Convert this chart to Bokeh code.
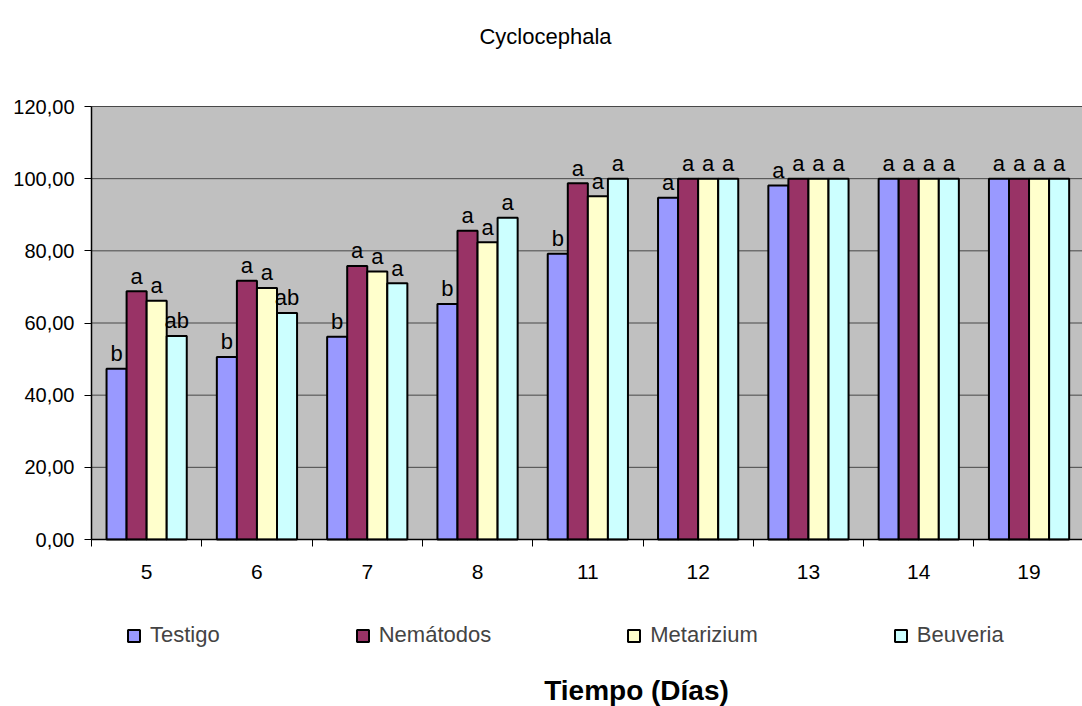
from bokeh.plotting import figure
from bokeh.models import (Range1d, FixedTicker, Legend, LegendItem, Label,
                          ColumnDataSource, LinearAxis, BoxAnnotation)
from bokeh.embed import file_html
from bokeh.resources import INLINE
from bokeh.core.properties import value

# ---------------- data ----------------
days = ["5", "6", "7", "8", "11", "12", "13", "14", "19"]
series_names = ["Testigo", "Nemátodos", "Metarizium", "Beuveria"]
testigo = [47.3, 50.6, 56.2, 65.3, 79.2, 94.7, 98.1, 100.0, 100.0]
nematodos = [68.8, 71.7, 75.8, 85.6, 98.7, 100.0, 100.0, 100.0, 100.0]
metarizium = [66.2, 69.7, 74.3, 82.4, 95.1, 100.0, 100.0, 100.0, 100.0]
beuveria = [56.4, 62.8, 71.0, 89.2, 100.0, 100.0, 100.0, 100.0, 100.0]
letters_testigo = ["b", "b", "b", "b", "b", "a", "a", "a", "a"]
letters_nematodos = ["a", "a", "a", "a", "a", "a", "a", "a", "a"]
letters_metarizium = ["a", "a", "a", "a", "a", "a", "a", "a", "a"]
letters_beuveria = ["ab", "ab", "a", "a", "a", "a", "a", "a", "a"]
y_ticks = [0, 20, 40, 60, 80, 100, 120]
y_tick_labels = ["0,00", "20,00", "40,00", "60,00", "80,00", "100,00", "120,00"]
y_max = 120
chart_title = "Cyclocephala"
x_title = "Tiempo (Días)"

# ---------------- layout (pixels) ----------------
colors = ["#9999FF", "#993366", "#FFFFCC", "#CCFFFF"]
FONT = "Liberation Sans"
W, H = 1082, 706
AREA_L, AREA_T, AREA_B = 91, 106, 539     # plot area edges in pixels
cat_px = 110.3                             # width of one category
px_per_unit = (AREA_B - AREA_T) / y_max
x_lo = -AREA_L / cat_px
x_hi = (W - AREA_L) / cat_px
y_lo = -(H - AREA_B) / px_per_unit
y_hi = y_max + AREA_T / px_per_unit
bar_w = 1.0 / 5.5  # Excel gap width 150%

p = figure(width=W, height=H, output_backend="svg", toolbar_location=None,
           x_range=Range1d(x_lo, x_hi), y_range=Range1d(y_lo, y_hi),
           x_axis_location=None, y_axis_location=None,
           min_border=0, min_border_left=0, min_border_right=0,
           min_border_top=0, min_border_bottom=0,
           background_fill_color="white", border_fill_color="white")
p.outline_line_color = None
p.xgrid.visible = False
p.ygrid.visible = False

# plot area background
p.add_layout(BoxAnnotation(left=0, right=x_hi + 1, bottom=0, top=y_max,
                           fill_color="#C0C0C0", fill_alpha=1,
                           line_color="#808080", line_width=1, level="underlay"))

# horizontal gridlines
p.segment(x0=[0] * (len(y_ticks) - 1), x1=[x_hi + 1] * (len(y_ticks) - 1),
          y0=y_ticks[1:], y1=y_ticks[1:], line_color="#484848", line_width=1)

all_vals = [testigo, nematodos, metarizium, beuveria]
all_letters = [letters_testigo, letters_nematodos, letters_metarizium, letters_beuveria]
renderers = []
for k, (vals, lets) in enumerate(zip(all_vals, all_letters)):
    xs = [i + 0.5 + (k - 1.5) * bar_w for i in range(len(days))]
    src = ColumnDataSource(dict(x=xs, top=vals, lab=lets))
    r = p.vbar(x="x", top="top", bottom=0, width=bar_w, source=src,
               fill_color=colors[k], line_color="black", line_width=2)
    renderers.append(r)
    p.text(x="x", y="top", text="lab", source=src, text_align="center",
           text_baseline="alphabetic", y_offset=-15,
           text_font=value(FONT), text_font_size="22px", text_color="black")

# x axis at y = 0
xa = LinearAxis(fixed_location=0, bounds=(0, x_hi + 1))
xa.ticker = FixedTicker(ticks=[i + 0.5 for i in range(len(days))],
                        minor_ticks=list(range(len(days) + 1)))
xa.major_label_overrides = {i + 0.5: d for i, d in enumerate(days)}
xa.major_tick_line_color = None
xa.major_tick_out = 0
xa.major_tick_in = 0
xa.minor_tick_line_color = "black"
xa.minor_tick_out = 7
xa.minor_tick_in = 0
xa.major_label_standoff = 18
xa.major_label_text_font = FONT
xa.major_label_text_font_size = "21px"
xa.major_label_text_color = "black"
xa.axis_line_color = "black"
xa.axis_line_width = 1.5
p.add_layout(xa, "below")

# y axis at x = 0
ya = LinearAxis(fixed_location=0, bounds=(0, y_max))
ya.ticker = FixedTicker(ticks=y_ticks)
ya.major_label_overrides = {t: l for t, l in zip(y_ticks, y_tick_labels)}
ya.major_tick_out = 7
ya.major_tick_in = 0
ya.major_tick_line_color = "black"
ya.minor_tick_line_color = None
ya.major_label_standoff = 10
ya.major_label_text_font = FONT
ya.major_label_text_font_size = "20px"
ya.major_label_text_color = "black"
ya.axis_line_color = "black"
ya.axis_line_width = 1.5
p.add_layout(ya, "left")

# legend
legend = Legend(items=[LegendItem(label=n, renderers=[r]) for n, r in zip(series_names, renderers)],
                location=(126, 58), orientation="horizontal", spacing=135,
                glyph_width=15, glyph_height=15, label_standoff=9,
                label_text_font=FONT, label_text_font_size="22px",
                padding=0, margin=0, border_line_color=None,
                background_fill_alpha=0)
p.add_layout(legend, "center")

# titles
p.add_layout(Label(x=545, y=H - 36, x_units="screen", y_units="screen", text=chart_title,
                   text_align="center", text_baseline="alphabetic",
                   text_font=FONT, text_font_size="22px", text_color="black"))
p.add_layout(Label(x=636, y=H - 690, x_units="screen", y_units="screen", text=x_title,
                   text_align="center", text_baseline="alphabetic",
                   text_font=FONT, text_font_size="28px", text_font_style="bold",
                   text_color="black"))

open("out.html", "w").write(file_html(p, INLINE))
